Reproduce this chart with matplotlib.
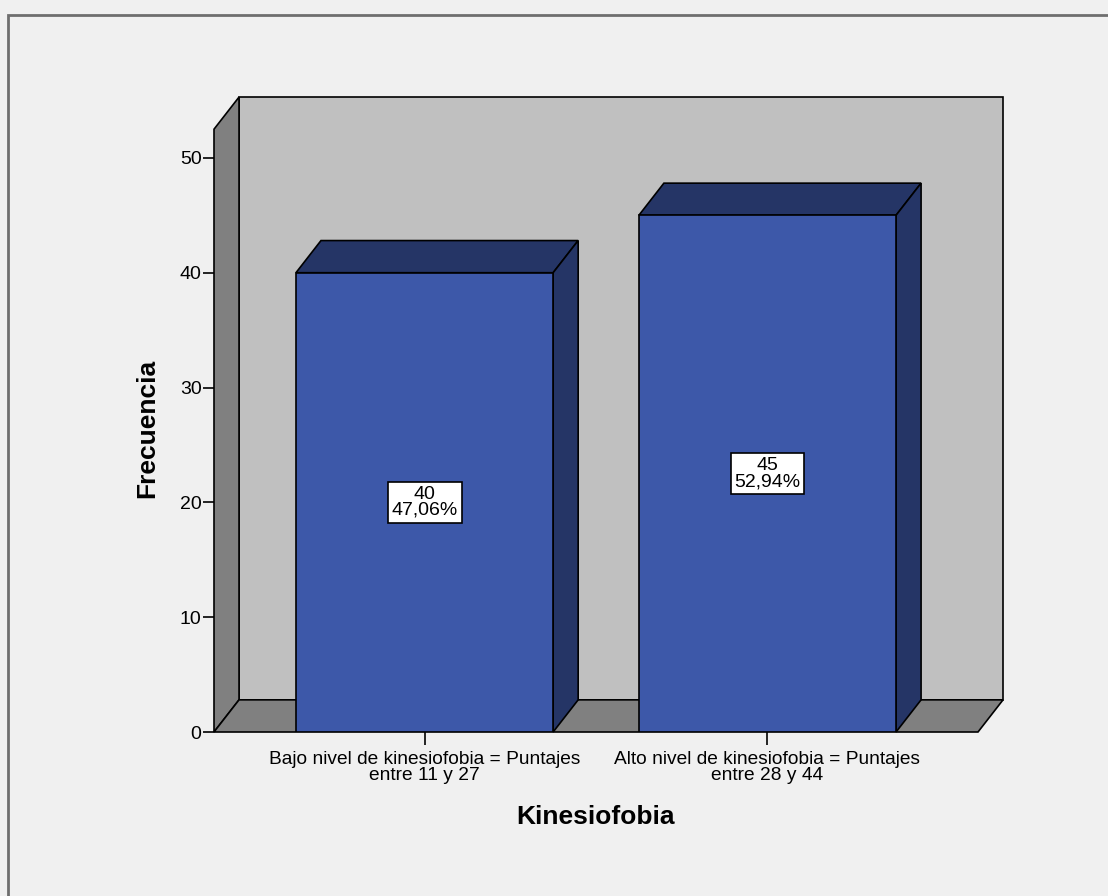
import matplotlib
matplotlib.use("Agg")
import matplotlib.pyplot as plt
from matplotlib.patches import Polygon, Rectangle

plt.rcParams['font.family'] = ['Liberation Sans', 'DejaVu Sans']

categories = ["Bajo nivel de kinesiofobia = Puntajes\nentre 11 y 27",
              "Alto nivel de kinesiofobia = Puntajes\nentre 28 y 44"]
counts = [40, 45]
yticks = [0, 10, 20, 30, 40, 50]

total = sum(counts)
x = [0, 1]
w = 0.75
x0, x1 = -0.614, 1.614
top = 52.5
DX, DY = 0.073, 2.8

front = "#3d58a9"
dark = "#253566"
wall = "#c0c0c0"
floor = "#808080"

fig = plt.figure(figsize=(11.08, 8.96), dpi=100)
fig.patch.set_facecolor("#f0f0f0")
# outer frame (only left and top edges fall inside the picture)
fig.patches.append(Rectangle((8 / 1108, -0.1), 1.2, 1.1 - 15 / 896, transform=fig.transFigure,
                             facecolor="none", edgecolor="#6e6e6e", lw=2))

ax = fig.add_axes([214 / 1108, 164 / 896, (978 - 214) / 1108, 643 / 896])
ax.set_xlim(x0, x1)
ax.set_ylim(0, 56)
ax.set_facecolor("none")
for s in ax.spines.values():
    s.set_visible(False)

ek = dict(edgecolor="black", lw=1.2, clip_on=False, joinstyle="miter")
# back wall, left wall, floor
ax.add_patch(Polygon([(x0 + DX, DY), (x1 + DX, DY), (x1 + DX, top + DY), (x0 + DX, top + DY)],
                     facecolor=wall, **ek))
ax.add_patch(Polygon([(x0, 0), (x0 + DX, DY), (x0 + DX, top + DY), (x0, top)], facecolor=floor, **ek))
ax.add_patch(Polygon([(x0, 0), (x1, 0), (x1 + DX, DY), (x0 + DX, DY)], facecolor=floor, **ek))

# bar tops and sides
for xi, v in zip(x, counts):
    l, r = xi - w / 2, xi + w / 2
    ax.add_patch(Polygon([(l, v), (r, v), (r + DX, v + DY), (l + DX, v + DY)], facecolor=dark, **ek))
    ax.add_patch(Polygon([(r, 0), (r + DX, DY), (r + DX, v + DY), (r, v)], facecolor=dark, **ek))
ax.bar(x, counts, width=w, color=front, edgecolor="black", lw=1.2, zorder=3)

for xi, v in zip(x, counts):
    pct = "{:.2f}%".format(v / total * 100).replace(".", ",")
    ax.text(xi, v / 2, "{}\n{}".format(v, pct), ha="center", va="center", fontsize=14,
            linespacing=0.92, zorder=5,
            bbox=dict(boxstyle="square,pad=0.2", facecolor="white", edgecolor="black", lw=1.2))

ax.set_yticks(yticks)
ax.set_xticks(x)
ax.set_xticklabels(categories, fontsize=13.8, linespacing=0.92)
ax.tick_params(axis="y", direction="out", length=8, width=1.2, labelsize=14, pad=1)
ax.tick_params(axis="x", direction="out", length=9.5, width=1.2, pad=4.5)
ax.set_ylabel("Frecuencia", fontsize=19, fontweight="bold")
ax.set_xlabel("Kinesiofobia", fontsize=19, fontweight="bold")
ax.yaxis.set_label_coords(-0.072, 0.472)
ax.xaxis.set_label_coords(0.5, -0.114)

fig.savefig("out.png", dpi=100, facecolor=fig.get_facecolor())
